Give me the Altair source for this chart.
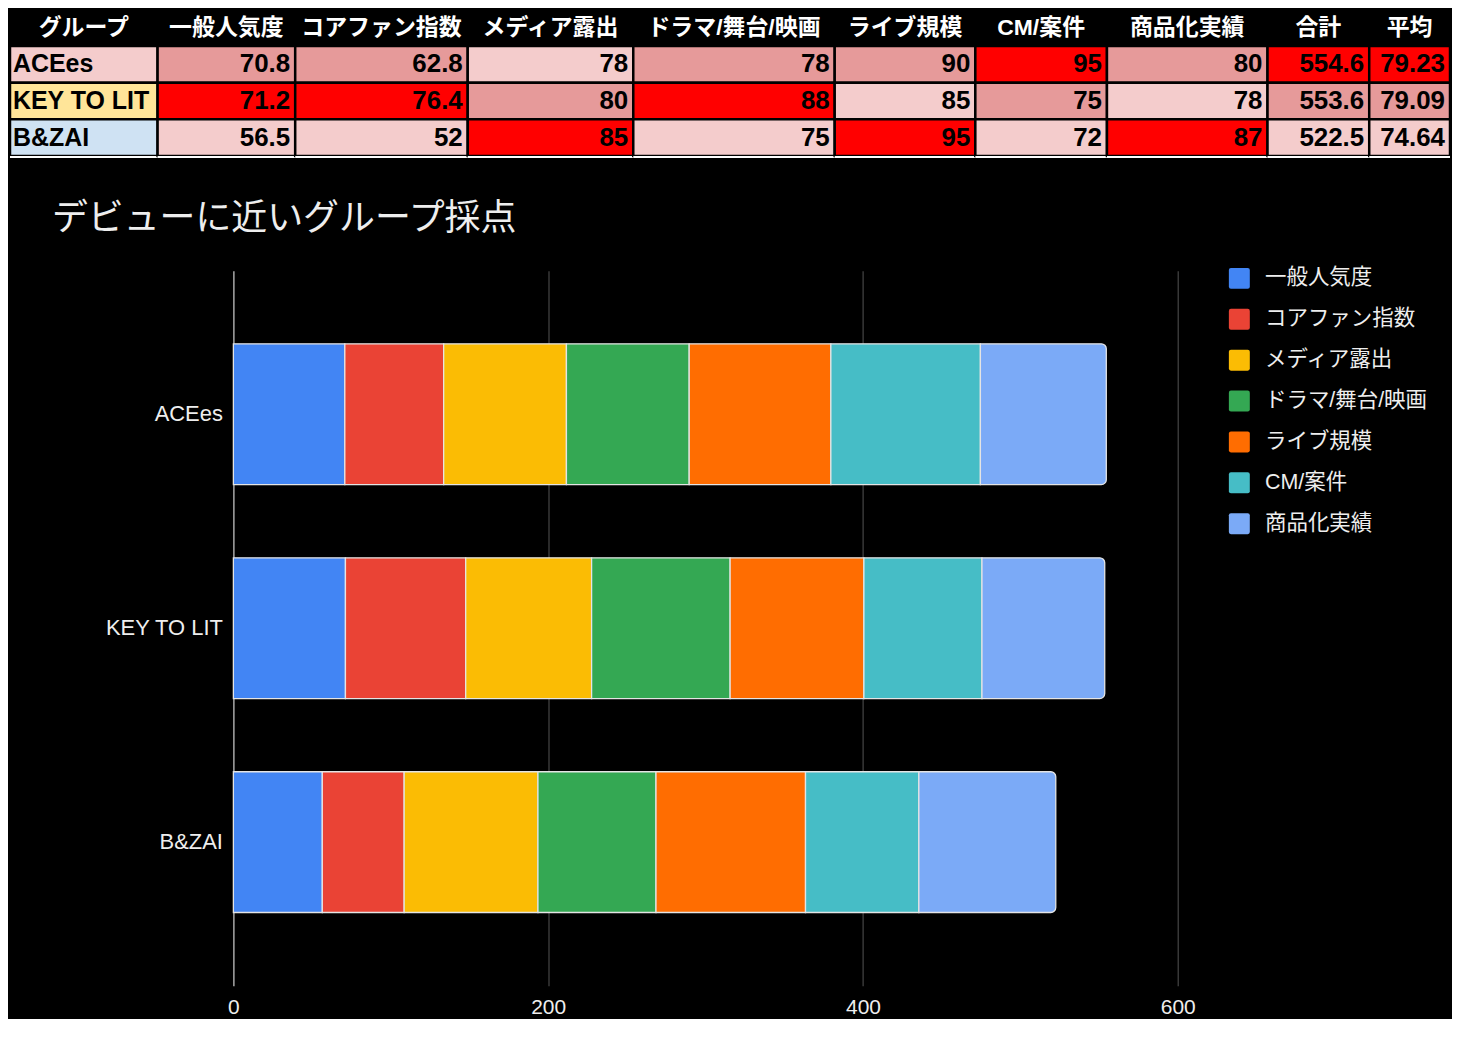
import json
import altair as alt
import pandas as pd

# ---------------- data ----------------
groups = ["ACEes", "KEY TO LIT", "B&ZAI"]
categories = ["一般人気度", "コアファン指数", "メディア露出", "ドラマ/舞台/映画",
              "ライブ規模", "CM/案件", "商品化実績"]
acees = [70.8, 62.8, 78, 78, 90, 95, 80]
key_to_lit = [71.2, 76.4, 80, 88, 85, 75, 78]
bzai = [56.5, 52, 85, 75, 95, 72, 87]
totals = [554.6, 553.6, 522.5]
averages = [79.23, 79.09, 74.64]
header_group = "グループ"
header_total = "合計"
header_avg = "平均"
chart_title = "デビューに近いグループ採点"
x_ticks = [0, 200, 400, 600]

# ---------------- styles / layout ----------------
palette = ["#4285F4", "#EA4335", "#FBBC04", "#34A853", "#FF6D01", "#46BDC6", "#7BAAF7"]
group_fill = ["#F4CCCC", "#FFE599", "#CFE2F3"]
rank_fill = ["#FF0000", "#E69A9A", "#F4CCCC"]
col_widths = [148, 138, 173, 166, 202, 141, 132, 161, 102, 81]
TABLE_H = 147
PLOT_LEFT = 224
PLOT_RIGHT = 1171
LABEL_FONT = "Liberation Sans, Arial, Noto Sans CJK JP, sans-serif"
CELL_FONT = "Liberation Sans, Arial, Noto Sans CJK JP, sans-serif"
HEAD_FONT = "Liberation Sans, Noto Sans CJK JP, sans-serif"
TITLE_FONT = "Noto Sans CJK JP, sans-serif"
TXT = "#eeeeee"

series = [acees, key_to_lit, bzai]

# ---------------- table ----------------
row_domain = ["__header__"] + groups
table_cols = [header_group] + categories + [header_total, header_avg]

group_fill_expr = "".join(
    f"datum.row === {json.dumps(g)} ? '{c}' : " for g, c in zip(groups, group_fill)
) + "'#000000'"
rank_fill_expr = (f"datum.rank === 1 ? '{rank_fill[0]}' : "
                  f"datum.rank === 2 ? '{rank_fill[1]}' : '{rank_fill[2]}'")

y_tab = alt.Y("row:N", scale=alt.Scale(domain=row_domain, paddingInner=0, paddingOuter=0), axis=None)

col_charts = []
for ci, (name, w) in enumerate(zip(table_cols, col_widths)):
    recs = []
    for gi, g in enumerate(groups):
        if ci == 0:
            recs.append({"row": g, "label": g, "value": gi})
        else:
            vals = series[gi] + [totals[gi], averages[gi]]
            v = vals[ci - 1]
            recs.append({"row": g, "label": str(v), "value": v})
    d = pd.DataFrame(recs)
    body = alt.Chart(d)
    if ci == 0:
        body = body.transform_calculate(fillc=group_fill_expr)
    else:
        body = body.transform_window(
            rank="rank()", sort=[alt.SortField("value", order="descending")]
        ).transform_calculate(fillc=rank_fill_expr)
    cells = body.mark_rect(stroke="black", strokeWidth=2.5).encode(
        x=alt.value(0), x2=alt.value(w), y=y_tab,
        fill=alt.Fill("fillc:N", scale=None),
    )
    if ci == 0:
        txt = body.mark_text(align="left", baseline="middle", font=CELL_FONT,
                             fontWeight="bold", fontSize=25, color="black").encode(
            x=alt.value(3), y=y_tab, text="label:N")
    else:
        txt = body.mark_text(align="right", baseline="middle", font=CELL_FONT,
                             fontWeight="bold", fontSize=26, color="black").encode(
            x=alt.value(w - 5), y=y_tab, text="label:N")
    hdr_df = pd.DataFrame({"row": ["__header__"], "label": [name]})
    hdr = alt.Chart(hdr_df).mark_text(align="center", baseline="middle", font=HEAD_FONT,
                                      fontWeight="bold", fontSize=23, color="white").encode(
        x=alt.value(w / 2), y=y_tab, text="label:N")
    line = alt.Chart(hdr_df).mark_rule(color="white", strokeWidth=2).encode(
        x=alt.value(0), x2=alt.value(w), y=alt.value(TABLE_H + 1))
    col_charts.append(alt.layer(cells, txt, hdr, line).properties(width=w, height=TABLE_H))

table = alt.hconcat(*col_charts, spacing=0, bounds="flush").resolve_scale(y="independent")

# ---------------- stacked bar chart ----------------
bar_rows = []
for g, vals in zip(groups, series):
    for i, (c, v) in enumerate(zip(categories, vals)):
        bar_rows.append({"group": g, "category": c, "order": i, "value": v})
bar_df = pd.DataFrame(bar_rows)

base = alt.Chart(bar_df).transform_window(
    cum="sum(value)", groupby=["group"], sort=[alt.SortField("order")], frame=[None, 0]
).transform_calculate(start="datum.cum - datum.value")

x_enc = alt.X(
    "start:Q",
    scale=alt.Scale(domain=[0, 600], range=[PLOT_LEFT, PLOT_RIGHT], nice=False, zero=True),
    axis=alt.Axis(
        values=x_ticks, title=None, grid=True, domain=False, ticks=False,
        gridColor={"condition": {"test": "datum.value === 0", "value": "#a8a8a8"}, "value": "#383838"},
        gridWidth=1.5,
        labelColor=TXT, labelFontSize=21, labelFont=LABEL_FONT, labelPadding=11,
        labelFlush=False,
    ),
)
y_enc = alt.Y(
    "group:N",
    scale=alt.Scale(domain=groups, paddingInner=0.342, paddingOuter=0.342),
    axis=alt.Axis(title=None, domain=False, ticks=False, grid=False, offset=-PLOT_LEFT,
                  labelColor=TXT, labelFontSize=22, labelFont=LABEL_FONT,
                  labelPadding=11),
)
sym = "M-0.8,-1L0.8,-1Q1,-1 1,-0.8L1,0.8Q1,1 0.8,1L-0.8,1Q-1,1 -1,0.8L-1,-0.8Q-1,-1 -0.8,-1Z"
color_enc = alt.Color(
    "category:N",
    scale=alt.Scale(domain=categories, range=palette),
    legend=alt.Legend(title=None, orient="none", legendX=1222, legendY=-3,
                      symbolType=sym, symbolSize=441, symbolStrokeWidth=0,
                      labelColor=TXT, labelFontSize=21.5, labelFont=LABEL_FONT,
                      labelLimit=400,
                      rowPadding=18, labelOffset=15, padding=0),
)

segs = base.transform_filter("datum.order < 6").mark_bar(
    stroke="#e4e4e4", strokeWidth=1.3).encode(x=x_enc, x2="cum:Q", y=y_enc, color=color_enc)
ends = base.transform_filter("datum.order >= 6").mark_bar(
    stroke="#e4e4e4", strokeWidth=1.3, cornerRadiusTopRight=5, cornerRadiusBottomRight=5
).encode(x=x_enc, x2="cum:Q", y=y_enc, color=color_enc)

bars = alt.layer(segs, ends).properties(
    width=PLOT_RIGHT, height=717,
    title=alt.Title(chart_title, anchor="start", frame="group", dx=42, offset=30,
                    fontSize=36, font=TITLE_FONT, fontWeight="normal", color=TXT),
)

chart = alt.vconcat(table, bars, spacing=43).resolve_scale(
    y="independent", x="independent", color="independent"
).properties(padding=0, background="black").configure_view(stroke=None)

chart.save("out.html", embed_options={"renderer": "svg", "actions": False})
